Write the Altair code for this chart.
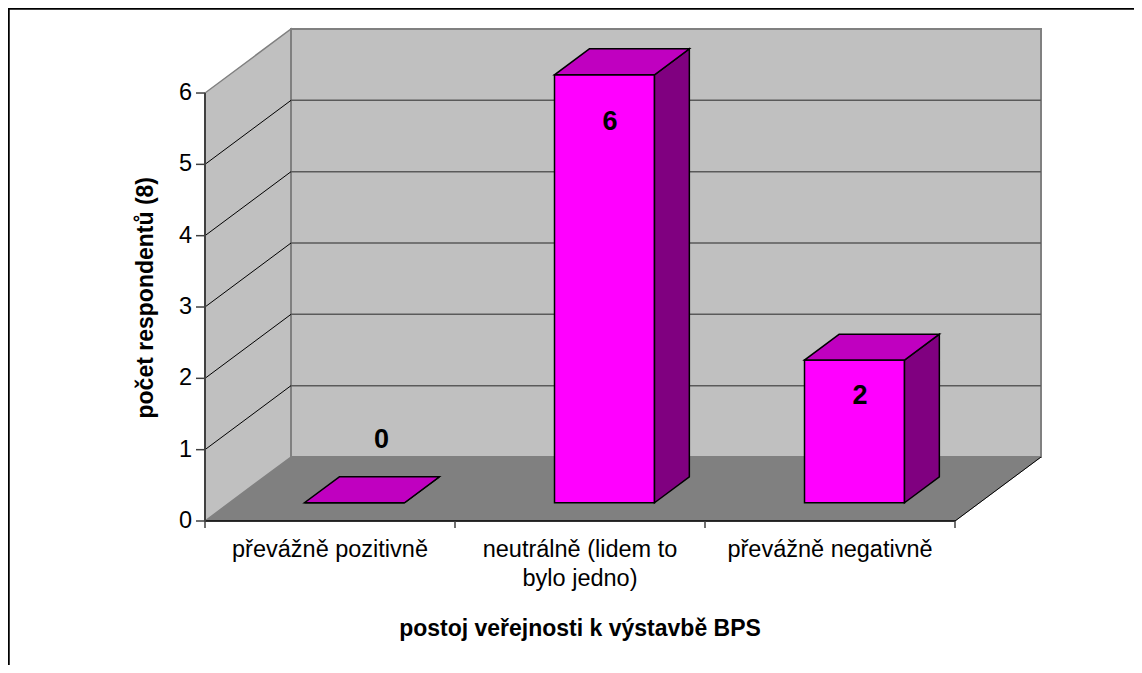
import altair as alt
import pandas as pd

# ---------------- data ----------------
categories = ["převážně pozitivně", "neutrálně (lidem to bylo jedno)", "převážně negativně"]
category_labels = ["převážně pozitivně", "neutrálně (lidem to\nbylo jedno)", "převážně negativně"]
values = [0, 6, 2]
y_ticks = [0, 1, 2, 3, 4, 5, 6]
x_title = "postoj veřejnosti k výstavbě BPS"
y_title = "počet respondentů (8)"

# ---------------- layout (pixels -> data units) ----------------
W, H = 1126, 657
PX_X = 250.0      # pixels per category slot
PX_Y = 71.33      # pixels per unit of value
OX, OY = 197, 513 # chart-pixel position of the front-left floor corner
x_dom = [-OX / PX_X, (W - OX) / PX_X]
y_dom = [-(H - OY) / PX_Y, OY / PX_Y]
DX = 86 / PX_X    # full depth offset, x
DY = 64 / PX_Y    # full depth offset, y
D1, D2 = 0.285, 0.69   # bar front / back depth
HALF = 0.2             # half bar width
N = len(categories)
YMAX = max(y_ticks)
FONT = "Liberation Sans"
FS = 23.5

xs = alt.Scale(domain=x_dom, nice=False, zero=False)
ys = alt.Scale(domain=y_dom, nice=False, zero=False)


def X(f="x"):
    return alt.X(f"{f}:Q", scale=xs, axis=None)


def Y(f="y"):
    return alt.Y(f"{f}:Q", scale=ys, axis=None)


# ---------------- walls & floor ----------------
floor = alt.Chart(pd.DataFrame({"y": [0, DY], "x": [0, DX], "x2": [N, N + DX]})).mark_area(
    orient="horizontal", fill="#808080", stroke="#808080", strokeWidth=1
).encode(y=Y(), x=X(), x2="x2:Q")

left_wall = alt.Chart(pd.DataFrame({"x": [0, DX], "y": [0, DY], "y2": [YMAX, YMAX + DY]})).mark_area(
    fill="#C0C0C0", stroke="#808080", strokeWidth=1.5
).encode(x=X(), y=Y(), y2="y2:Q")

back_wall = alt.Chart(pd.DataFrame({"x": [DX], "x2": [N + DX], "y": [DY], "y2": [YMAX + DY]})).mark_rect(
    fill="#C0C0C0", stroke="#808080", strokeWidth=2
).encode(x=X(), x2="x2:Q", y=Y(), y2="y2:Q")

grid_vals = [v for v in y_ticks if 0 < v < YMAX]
back_grid = alt.Chart(pd.DataFrame({
    "x": [DX] * len(grid_vals), "x2": [N + DX] * len(grid_vals), "y": [v + DY for v in grid_vals]
})).mark_rule(color="#5a5a5a", strokeWidth=1.5).encode(x=X(), x2="x2:Q", y=Y())

left_grid = alt.Chart(pd.DataFrame({
    "x": [0] * len(grid_vals), "x2": [DX] * len(grid_vals),
    "y": grid_vals, "y2": [v + DY for v in grid_vals]
})).mark_rule(color="#000000", strokeWidth=1).encode(x=X(), x2="x2:Q", y=Y(), y2="y2:Q")

floor_front = alt.Chart(pd.DataFrame({"x": [0], "x2": [N], "y": [0]})).mark_rule(
    color="#000000", strokeWidth=1.5).encode(x=X(), x2="x2:Q", y=Y())
floor_right = alt.Chart(pd.DataFrame({"x": [N], "x2": [N + DX], "y": [0], "y2": [DY]})).mark_rule(
    color="#000000", strokeWidth=1).encode(x=X(), x2="x2:Q", y=Y(), y2="y2:Q")

y_axis_line = alt.Chart(pd.DataFrame({"x": [0], "y": [0], "y2": [YMAX]})).mark_rule(
    color="#404040", strokeWidth=2).encode(x=X(), y=Y(), y2="y2:Q")
y_tick_marks = alt.Chart(pd.DataFrame({
    "x": [-9 / PX_X] * len(y_ticks), "x2": [0] * len(y_ticks), "y": y_ticks
})).mark_rule(color="#404040", strokeWidth=1.5).encode(x=X(), x2="x2:Q", y=Y())
x_tick_marks = alt.Chart(pd.DataFrame({
    "x": list(range(N + 1)), "y": [0] * (N + 1), "y2": [-7 / PX_Y] * (N + 1)
})).mark_rule(color="#404040", strokeWidth=1.5).encode(x=X(), y=Y(), y2="y2:Q")

# ---------------- bars ----------------
front_rows, side_rows, top_rows, label_rows = [], [], [], []
for i, (c, v) in enumerate(zip(categories, values)):
    cx = i + 0.5
    front_rows.append({"cat": c, "x": cx - HALF + D1 * DX, "x2": cx + HALF + D1 * DX,
                       "y": D1 * DY, "y2": v + D1 * DY})
    for d in (D1, D2):
        side_rows.append({"cat": c, "x": cx + HALF + d * DX, "y": d * DY, "y2": v + d * DY})
        top_rows.append({"cat": c, "y": v + d * DY, "x": cx - HALF + d * DX, "x2": cx + HALF + d * DX})
    inside = v > 0
    label_rows.append({"cat": c, "txt": str(v),
                       "x": cx + (0.35 if inside else 0.6) * DX,
                       "y": 0.96 * v - 0.17 if inside else v + 1.14})

bar_front = alt.Chart(pd.DataFrame(front_rows)).mark_rect(
    fill="#FF00FF", stroke="#000000", strokeWidth=1.5
).encode(x=X(), x2="x2:Q", y=Y(), y2="y2:Q")

bar_side = alt.Chart(pd.DataFrame(side_rows)).mark_area(
    fill="#800080", stroke="#000000", strokeWidth=1.5
).encode(x=X(), y=Y(), y2="y2:Q", detail="cat:N")

bar_top = alt.Chart(pd.DataFrame(top_rows)).mark_area(
    orient="horizontal", fill="#C000C0", stroke="#000000", strokeWidth=1.5
).encode(y=Y(), x=X(), x2="x2:Q", detail="cat:N")

value_labels = alt.Chart(pd.DataFrame(label_rows)).mark_text(
    font=FONT, fontSize=27, fontWeight="bold", color="#000000", align="center", baseline="middle"
).encode(x=X(), y=Y(), text="txt:N")

# ---------------- texts ----------------
y_labels = alt.Chart(pd.DataFrame({"x": [-13 / PX_X] * len(y_ticks), "y": y_ticks,
                                   "t": [str(t) for t in y_ticks]})).mark_text(
    font=FONT, fontSize=FS, align="right", baseline="middle", color="#000000"
).encode(x=X(), y=Y(), text="t:N")

x_labels = alt.Chart(pd.DataFrame({"x": [i + 0.5 for i in range(N)], "y": [-36 / PX_Y] * N,
                                   "t": category_labels})).mark_text(
    font=FONT, fontSize=FS, align="center", baseline="alphabetic", color="#000000",
    lineBreak="\n", lineHeight=29
).encode(x=X(), y=Y(), text="t:N")

x_title_mark = alt.Chart(pd.DataFrame({"x": [N / 2], "y": [-115 / PX_Y], "t": [x_title]})).mark_text(
    font=FONT, fontSize=23, fontWeight="bold", align="center", baseline="alphabetic", color="#000000"
).encode(x=X(), y=Y(), text="t:N")

y_title_mark = alt.Chart(pd.DataFrame({"x": [-59.5 / PX_X], "y": [YMAX / 2 + 0.13], "t": [y_title]})).mark_text(
    font=FONT, fontSize=23, fontWeight="bold", align="center", baseline="middle", angle=270, color="#000000"
).encode(x=X(), y=Y(), text="t:N")

# ---------------- outer frame ----------------
frame_top = alt.Chart(pd.DataFrame({"a": [0]})).mark_rule(color="#000000", strokeWidth=2.5).encode(
    x=alt.value(0), x2=alt.value(W), y=alt.value(0.5))
frame_left = alt.Chart(pd.DataFrame({"a": [0]})).mark_rule(color="#000000", strokeWidth=2.5).encode(
    x=alt.value(0.5), y=alt.value(0), y2=alt.value(H))

chart = alt.layer(
    floor, left_wall, back_wall, back_grid, left_grid,
    floor_front, floor_right, y_axis_line, y_tick_marks, x_tick_marks,
    bar_front, bar_side, bar_top, value_labels,
    y_labels, x_labels, x_title_mark, y_title_mark,
    frame_top, frame_left,
).properties(
    width=W, height=H, padding=0, autosize=alt.AutoSizeParams(type="none")
).configure_view(strokeWidth=0).configure(background="#FFFFFF")

chart.save("out.html", embed_options={"renderer": "svg", "actions": False})
